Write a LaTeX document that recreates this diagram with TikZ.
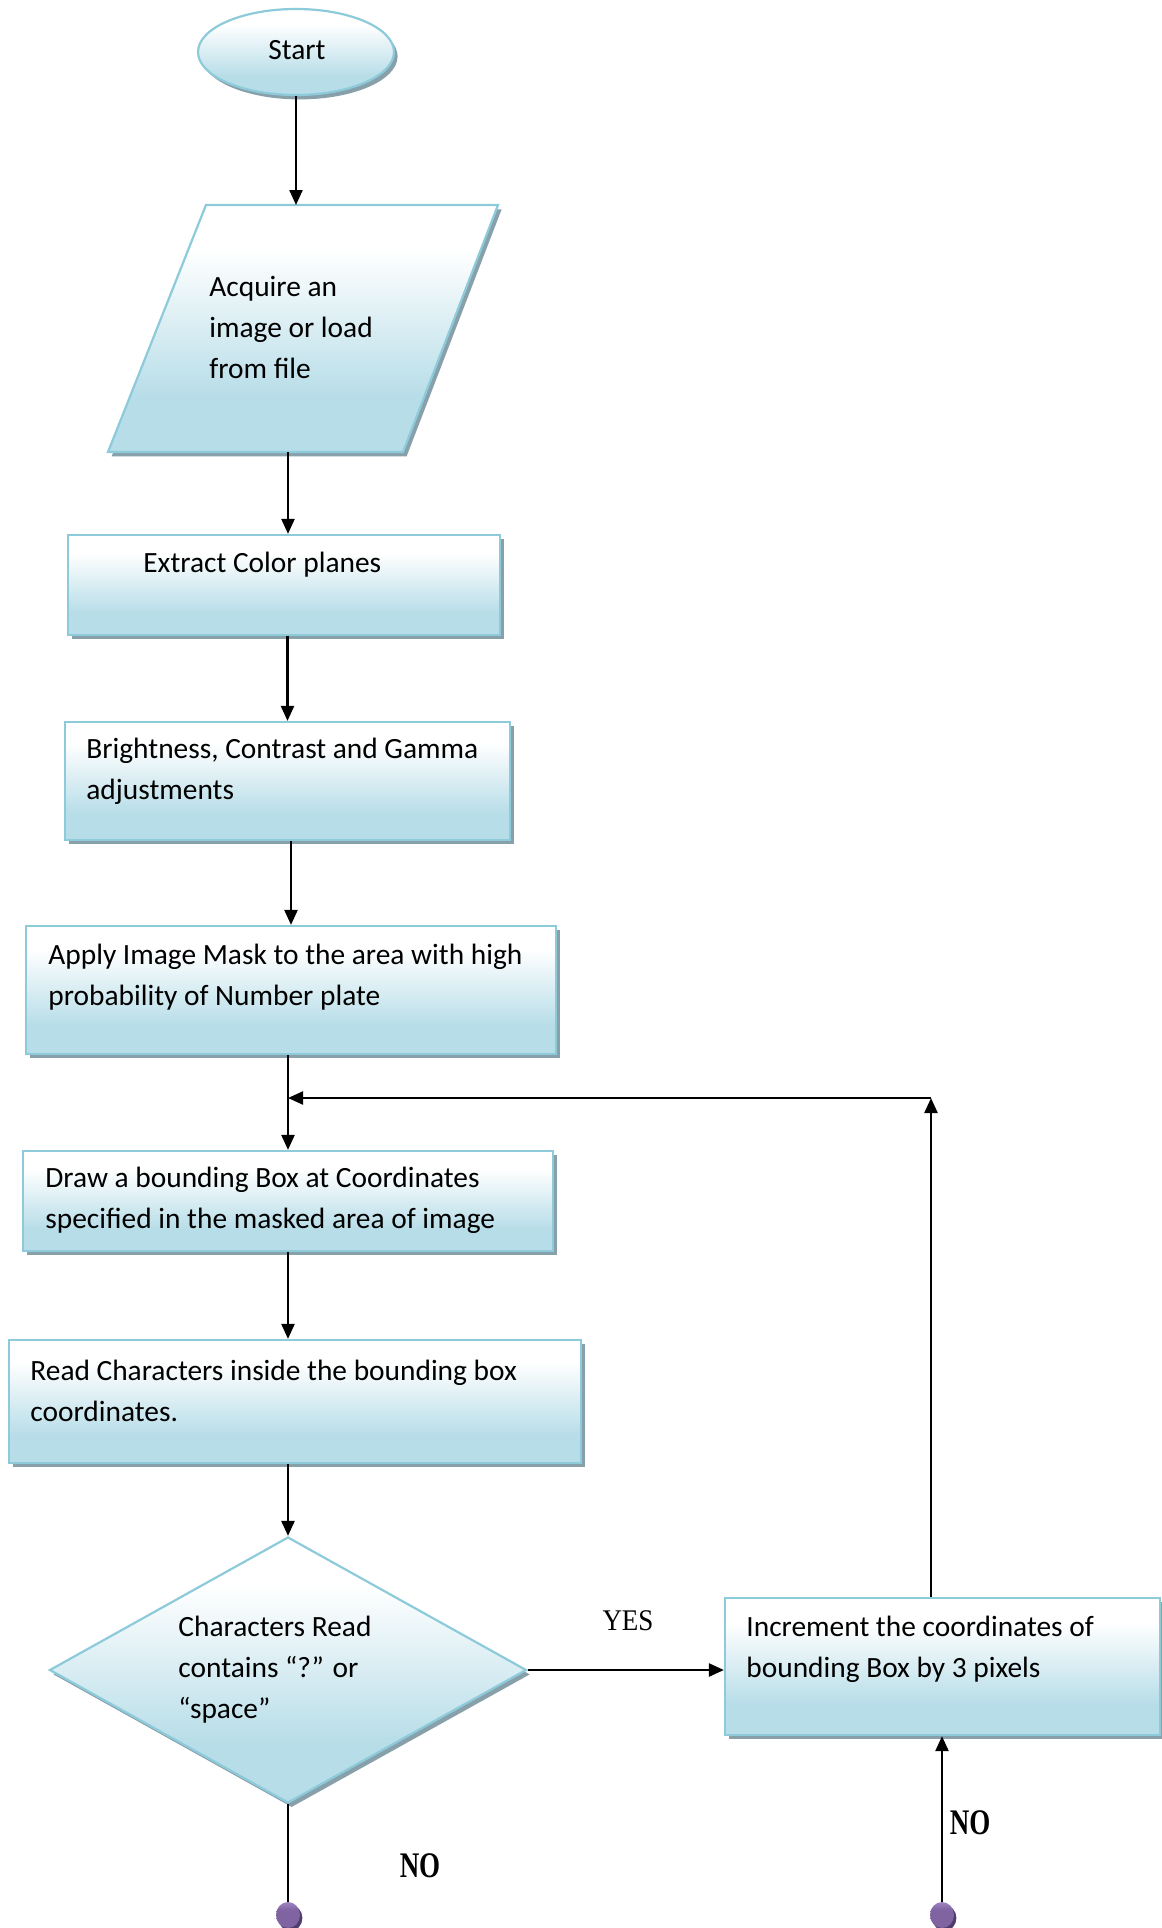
\documentclass[tikz,border=0pt]{standalone}
\usepackage{fontspec}
\usepackage{graphicx}
\setmainfont{Carlito}
\newfontfamily\labelserif{Liberation Serif}
\usetikzlibrary{arrows.meta,shapes.geometric,shadows}

\definecolor{edgeblue}{RGB}{141,203,219}
\definecolor{fillblue}{RGB}{183,221,232}
\definecolor{shadowgray}{RGB}{135,160,170}
\definecolor{dotpurple}{RGB}{128,100,162}
\definecolor{dotlight}{RGB}{158,132,192}
\definecolor{dotshadow}{RGB}{80,60,110}

% white at the top fading to light blue towards the bottom
\pgfdeclareverticalshading{boxfade}{100bp}{color(0bp)=(fillblue); color(25bp)=(fillblue); color(36bp)=(fillblue); color(66bp)=(white); color(75bp)=(white); color(100bp)=(white)}
\pgfdeclareverticalshading{dotfade}{100bp}{color(0bp)=(dotpurple); color(25bp)=(dotpurple); color(60bp)=(dotpurple); color(75bp)=(dotlight); color(100bp)=(dotlight)}

\tikzset{
  flowbox/.style={draw=edgeblue, line width=1.1pt, shading=boxfade, inner sep=0pt,
    drop shadow={fill=shadowgray, opacity=1, shadow xshift=1.8pt, shadow yshift=-2.2pt}},
  procbox/.style={flowbox, rectangle},
  boxtext/.style={anchor=west, align=left, inner sep=0pt, font=\fontsize{14.7}{20.5}\selectfont},
  arr/.style={-{Triangle[length=7.5pt,width=6.5pt]}, line width=1.15pt},
  link/.style={line width=1.15pt},
  enddot/.style={ellipse, minimum width=12pt, minimum height=13pt, inner sep=0pt, shading=dotfade,
    drop shadow={fill=dotshadow, opacity=1, shadow xshift=1.2pt, shadow yshift=-1.5pt}},
  yeslabel/.style={inner sep=0pt, font=\labelserif\fontsize{15}{18}\selectfont},
  nolabel/.style={inner sep=0pt, font=\labelserif\bfseries\fontsize{18}{20}\selectfont}
}

\begin{document}
\begin{tikzpicture}[x=0.5pt, y=-0.5pt]
  \fill[white] (0,0) rectangle (1162,1928);
  \useasboundingbox (0,0) rectangle (1162,1928);

  % shapes
  \node[flowbox, ellipse, minimum width=98pt, minimum height=43pt] (start) at (296,52) {};
  \node[inner sep=0pt, font=\fontsize{14.7}{17}\selectfont] (t-start) at (297,50) {Start};

  % input parallelogram
  \path[flowbox] (206,205) -- (498,205) -- (403,452) -- (108,452) -- cycle;
  \coordinate (paraN) at (299,205);
  \coordinate (paraS) at (288,452);
  \node[boxtext] (t-para) at (209,327) {Acquire an\\image or load\\from file};

  \node[procbox, minimum width=216pt, minimum height=50pt] (ext) at (284,585) {};
  \node[boxtext] (t-ext) at (143,565) {Extract Color planes};

  \node[procbox, minimum width=222.5pt, minimum height=59pt] (bright) at (287.5,781) {};
  \node[boxtext] (t-bright) at (86,771.5) {Brightness, Contrast and Gamma\\adjustments};

  \node[procbox, minimum width=265pt, minimum height=64pt] (apply) at (291,990) {};
  \node[boxtext] (t-apply) at (48,977) {Apply Image Mask to the area with high\\probability of Number plate};

  \node[procbox, minimum width=265pt, minimum height=50pt] (bbox) at (288,1201) {};
  \node[boxtext] (t-bbox) at (45,1200.5) {Draw a bounding Box at Coordinates\\specified in the masked area of image};

  \node[procbox, minimum width=286pt, minimum height=61.5pt] (read) at (295,1401.5) {};
  \node[boxtext] (t-read) at (30,1391) {Read Characters inside the bounding box\\coordinates.};

  \node[flowbox, diamond, minimum width=238.5pt, minimum height=133pt] (dia) at (288,1670) {};
  \node[boxtext] (t-dia) at (178,1670) {Characters Read\\contains “?” or\\“space”};

  \node[procbox, minimum width=217.5pt, minimum height=68.5pt] (inc) at (942.5,1666.5) {};
  \node[boxtext] (t-inc) at (746,1649) {Increment the coordinates of\\bounding Box by 3 pixels};

  \node[enddot] (endL) at (288,1915) {};
  \node[enddot] (endR) at (942,1915) {};

  \coordinate (corner) at (931,1098);

  % labels
  \node[yeslabel] (l-yes) at (628,1621) {\scalebox{0.9}[1]{YES}};
  \node[nolabel] (l-noL) at (420,1866) {\scalebox{0.75}[1]{NO}};
  \node[nolabel] (l-noR) at (970,1823) {\scalebox{0.75}[1]{NO}};

  % connectors
  \draw[arr] (start.south) -- (start.south |- paraN);
  \draw[arr] (paraS) -- (paraS |- ext.north);
  \draw[arr] (ext.south -| bright.north) -- (bright.north);
  \draw[arr] (bright.south -| apply.north) -- (apply.north);
  \draw[arr] (apply.south -| bbox.north) -- (bbox.north);
  \draw[arr] (bbox.south) -- (bbox.south |- read.north);
  \draw[arr] (read.south -| dia.north) -- (dia.north);
  \draw[arr] (dia.east) -- (dia.east -| inc.west);
  \draw[arr] (inc.north -| corner) -- (corner);
  \draw[arr] (corner) -- (corner -| bbox.north);
  \draw[link] (dia.south) -- (endL.north);
  \draw[arr] (endR.north) -- (endR.north |- inc.south);
\end{tikzpicture}
\end{document}
